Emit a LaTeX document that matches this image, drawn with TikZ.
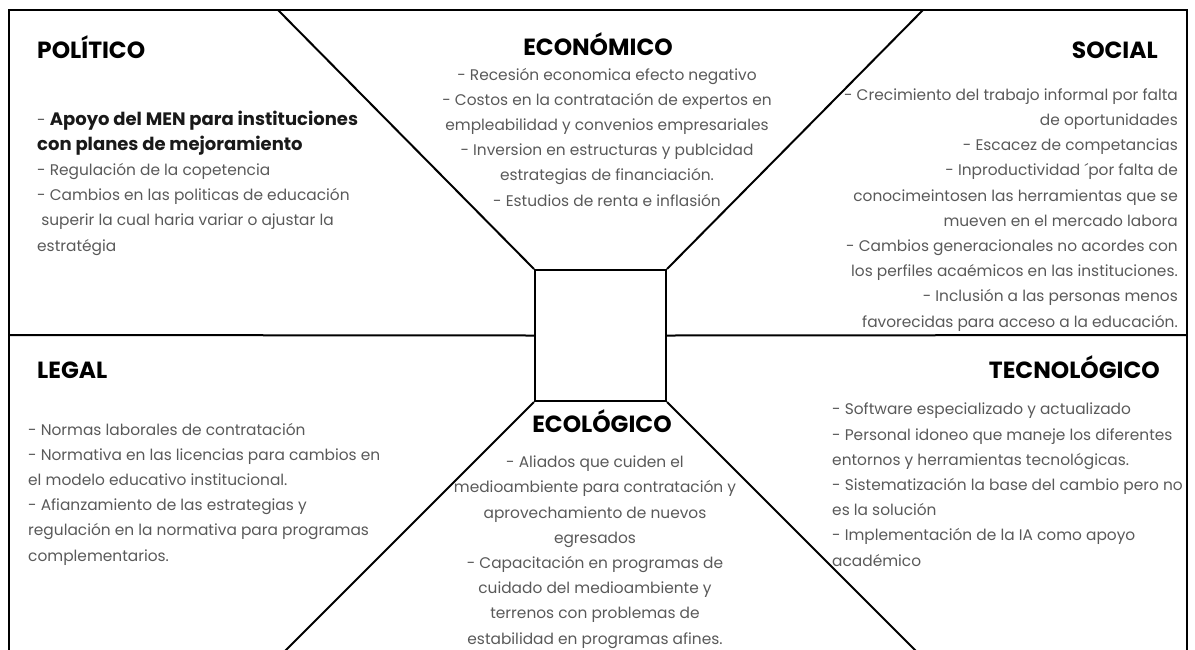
\documentclass[tikz,border=0pt]{standalone}
\usepackage{fontspec}
\setmainfont{Poppins}
\usetikzlibrary{positioning}

\begin{document}
\begin{tikzpicture}[x=1pt, y=-1pt,
  frame/.style={line width=2pt},
  heading/.style={font=\fontsize{23.4}{25}\selectfont\bfseries, inner sep=0pt},
  items/.style={font=\fontsize{15.4}{25.2}\selectfont, text=black!65, inner sep=0pt}]

\useasboundingbox (0,0) rectangle (1195,649);

\coordinate (tl) at (9,10);
\coordinate (tr) at (1187,10);
\coordinate (bl) at (9,652);
\coordinate (br) at (1187,652);
\coordinate (ml) at (9,335);
\coordinate (mr) at (1187,335);
\coordinate (dtl) at (278,10);
\coordinate (dtr) at (923,10);
\coordinate (dbl) at (284,652);
\coordinate (dbr) at (917,652);

\node[draw, frame, minimum width=131pt, minimum height=131pt, inner sep=0pt] (core) at (600.5,335.5) {};

\draw[frame] (bl) -- (tl) -- (tr) -- (br);
\draw[frame] (ml) -- (core.west);
\draw[frame] (core.east) -- (mr);
\draw[frame] (core.north west) -- (dtl);
\draw[frame] (core.north east) -- (dtr);
\draw[frame] (core.south west) -- (dbl);
\draw[frame] (core.south east) -- (dbr);

% base anchor of a multi-line node sits on its last line
\node[heading, anchor=base west] (politico) at (37,58) {POLÍTICO};
\node[items, anchor=base west, align=left] (politicoitems) at (37,251) {%
- {\fontsize{18}{25.2}\selectfont\bfseries\color{black!90}Apoyo del MEN para instituciones}\\
{\fontsize{18}{25.2}\selectfont\bfseries\color{black!90}con planes de mejoramiento}\\
- Regulación de la copetencia\\
- Cambios en las politicas de educación\\
\ superir la cual haria variar o ajustar la\\
estratégia};

\node[heading, anchor=base] (economico) at (598,55) {ECONÓMICO};
\node[items, anchor=base, align=center] (economicoitems) at (607,206) {%
- Recesión economica efecto negativo\\
- Costos en la contratación de expertos en\\
empleabilidad y convenios empresariales\\
- Inversion en estructuras y publcidad\\
estrategias de financiación.\\
- Estudios de renta e inflasión};

\node[heading, anchor=base east] (social) at (1158,58) {SOCIAL};
\node[items, anchor=base east, align=right] (socialitems) at (1178,327) {%
- Crecimiento del trabajo informal por falta\\
de oportunidades\\
- Escacez de competancias\\
- Inproductividad ´por falta de\\
conocimeintosen las herramientas que se\\
mueven en el mercado labora\\
- Cambios generacionales no acordes con\\
los perfiles acaémicos en las instituciones.\\
- Inclusión a las personas menos\\
favorecidas para acceso a la educación.};

\node[heading, anchor=base west] (legal) at (37,378) {LEGAL};
\node[items, anchor=base west, align=left] (legalitems) at (28,561) {%
- Normas laborales de contratación\\
- Normativa en las licencias para cambios en\\
el modelo educativo institucional.\\
- Afianzamiento de las estrategias y\\
regulación en la normativa para programas\\
complementarios.};

\node[heading, anchor=base] (ecologico) at (602,432) {ECOLÓGICO};
\node[items, anchor=base, align=center] (ecologicoitems) at (595,644) {%
- Aliados que cuiden el\\
medioambiente para contratación y\\
aprovechamiento de nuevos\\
egresados\\
- Capacitación en programas de\\
cuidado del medioambiente y\\
terrenos con problemas de\\
estabilidad en programas afines.};

\node[heading, anchor=base east] (tecnologico) at (1160,378) {TECNOLÓGICO};
\node[items, anchor=base west, align=left] (tecnologicoitems) at (832,566) {%
- Software especializado y actualizado\\
- Personal idoneo que maneje los diferentes\\
entornos y herramientas tecnológicas.\\
- Sistematización la base del cambio pero no\\
es la solución\\
- Implementación de la IA como apoyo\\
académico};

\end{tikzpicture}
\end{document}
